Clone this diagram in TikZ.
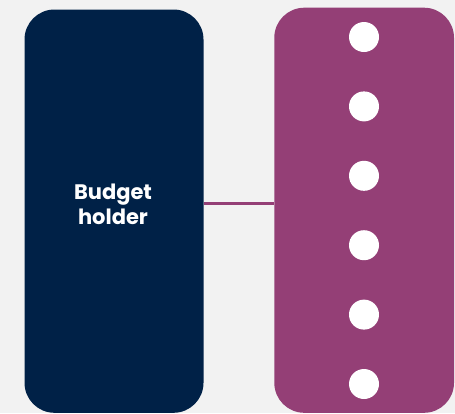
\documentclass[tikz,border=0pt]{standalone}
\usepackage{fontspec}
\setmainfont{Poppins}
\definecolor{bgc}{HTML}{F2F2F2}
\definecolor{navy}{HTML}{002147}
\definecolor{plum}{HTML}{943F76}
\begin{document}
\begin{tikzpicture}[x=1pt,y=-1pt,
  panel/.style={rounded corners=30pt},
  dot/.style={circle,fill=white,minimum size=30pt,inner sep=0pt}]
\fill[bgc] (0,0) rectangle (455,413);
\useasboundingbox (0,0) rectangle (455,413);
\fill[navy,panel] (24.5,9.5) rectangle (203.5,412.8);
\fill[plum,panel] (274.3,7.7) rectangle (454,412.8);
\node[font=\bfseries\fontsize{21}{25}\selectfont,text=white,align=center] (bh) at (113,204) {Budget\\holder};
\coordinate (la) at (203.5,203.3);
\coordinate (lb) at (274.3,203.3);
\draw[plum,line width=2.5pt] (la) -- (lb);
\foreach \i/\y in {1/37,2/106.4,3/175.8,4/245.2,5/314.6,6/384}
  \node[dot] (d\i) at (364,\y) {};
\end{tikzpicture}
\end{document}
